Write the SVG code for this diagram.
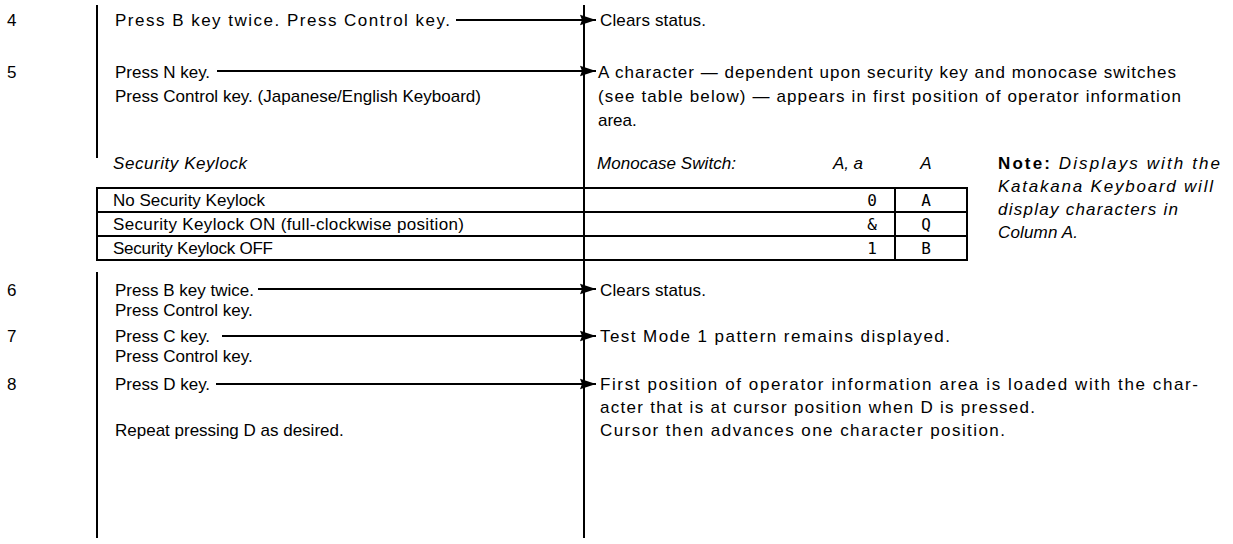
<svg xmlns="http://www.w3.org/2000/svg" width="1233" height="544" viewBox="0 0 1233 544">
<style>
text{font-family:"Liberation Sans",Arial,sans-serif;font-size:17px;fill:#000}
.it{font-style:italic}
.b{font-weight:bold}
.mono{font-family:"DejaVu Sans Mono","Liberation Mono",monospace;font-size:16px}
.ln{stroke:#000;stroke-width:2;fill:none}
.tb{stroke:#000;stroke-width:2;fill:none}
.ar{stroke:#000;stroke-width:1.8;fill:none}
</style>
<defs>
<marker id="ah" markerWidth="18" markerHeight="12" refX="16" refY="6" orient="auto" markerUnits="userSpaceOnUse">
<path d="M0,0.8 L16,6 L0,11.2 L2,6 Z" fill="#000"/>
</marker>
</defs>
<rect width="1233" height="544" fill="#fff"/>
<g id="frame">
<line class="ln" x1="97" y1="5" x2="97" y2="158"/>
<line class="ln" x1="97" y1="272" x2="97" y2="538"/>
<line class="ln" x1="584" y1="5" x2="584" y2="538"/>
</g>
<g id="step4">
<text x="7" y="26">4</text>
<text x="115" y="26" textLength="335" lengthAdjust="spacing">Press B key twice.  Press Control key.</text>
<text x="600" y="26" textLength="106" lengthAdjust="spacing">Clears status.</text>
</g>
<g id="step5">
<text x="7" y="78">5</text>
<text x="115" y="78">Press N key.</text>
<text x="115" y="102" textLength="366" lengthAdjust="spacing">Press Control key. (Japanese/English Keyboard)</text>
<text x="598" y="78" textLength="578" lengthAdjust="spacing">A character — dependent upon security key and monocase switches</text>
<text x="598" y="102" textLength="583" lengthAdjust="spacing">(see table below) — appears in first position of operator information</text>
<text x="598" y="126">area.</text>
</g>
<g id="table">
<text class="it" x="113" y="169" textLength="134" lengthAdjust="spacing">Security Keylock</text>
<text class="it" x="597" y="169" textLength="139" lengthAdjust="spacing">Monocase Switch:</text>
<text class="it" x="833" y="169" textLength="30" lengthAdjust="spacing">A, a</text>
<text class="it" x="926" y="169" text-anchor="middle">A</text>
<rect class="tb" x="97" y="188" width="870" height="72"/>
<line class="tb" x1="97" y1="212" x2="967" y2="212"/>
<line class="tb" x1="97" y1="236" x2="967" y2="236"/>
<line class="tb" x1="895" y1="188" x2="895" y2="260"/>
<text x="113" y="206">No Security Keylock</text>
<text x="113" y="230" textLength="351" lengthAdjust="spacing">Security Keylock ON (full-clockwise position)</text>
<text x="113" y="254" textLength="160" lengthAdjust="spacing">Security Keylock OFF</text>
<text class="mono" x="872" y="206" text-anchor="middle">0</text>
<text class="mono" x="872" y="230" text-anchor="middle">&amp;</text>
<text class="mono" x="872" y="254" text-anchor="middle">1</text>
<text class="mono" x="926" y="206" text-anchor="middle">A</text>
<text class="mono" x="926" y="230" text-anchor="middle">Q</text>
<text class="mono" x="926" y="254" text-anchor="middle">B</text>
</g>
<g id="note">
<text x="998" y="169" textLength="222" lengthAdjust="spacing"><tspan class="b">Note:</tspan><tspan class="it">  Displays with the</tspan></text>
<text class="it" x="998" y="192" textLength="215" lengthAdjust="spacing">Katakana Keyboard will</text>
<text class="it" x="998" y="215" textLength="180" lengthAdjust="spacing">display characters in</text>
<text class="it" x="998" y="238" textLength="80" lengthAdjust="spacing">Column A.</text>
</g>
<g id="step6">
<text x="7" y="296">6</text>
<text x="115" y="296">Press B key twice.</text>
<text x="115" y="316">Press Control key.</text>
<text x="600" y="296" textLength="106" lengthAdjust="spacing">Clears status.</text>
</g>
<g id="step7">
<text x="7" y="342">7</text>
<text x="115" y="342">Press C key.</text>
<text x="115" y="362">Press Control key.</text>
<text x="600" y="342" textLength="350" lengthAdjust="spacing">Test Mode 1 pattern remains displayed.</text>
</g>
<g id="step8">
<text x="7" y="390">8</text>
<text x="115" y="390">Press D key.</text>
<text x="115" y="436">Repeat pressing D as desired.</text>
<text x="600" y="390" textLength="598" lengthAdjust="spacing">First position of operator information area is loaded with the char-</text>
<text x="600" y="413" textLength="435" lengthAdjust="spacing">acter that is at cursor position when D is pressed.</text>
<text x="600" y="436" textLength="405" lengthAdjust="spacing">Cursor then advances one character position.</text>
</g>
<g id="connectors">
<line class="ar" x1="456" y1="20" x2="596" y2="20" marker-end="url(#ah)"/>
<line class="ar" x1="217" y1="71" x2="596" y2="71" marker-end="url(#ah)"/>
<line class="ar" x1="258" y1="289" x2="596" y2="289" marker-end="url(#ah)"/>
<line class="ar" x1="222" y1="336" x2="596" y2="336" marker-end="url(#ah)"/>
<line class="ar" x1="216" y1="384" x2="596" y2="384" marker-end="url(#ah)"/>
</g>
</svg>
